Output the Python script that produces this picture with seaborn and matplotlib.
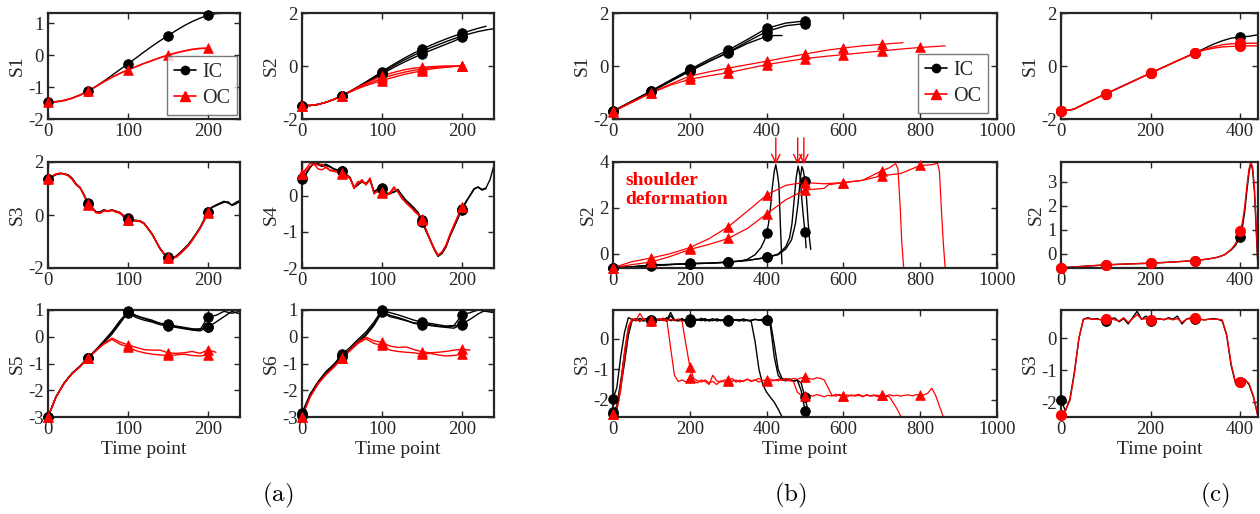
import matplotlib
matplotlib.use("Agg")
import matplotlib.pyplot as plt
import seaborn as sns
from matplotlib.lines import Line2D

# ---------------- data ----------------
T5 = list(range(0, 245, 5))
T10 = list(range(0, 250, 10))
TB = list(range(0, 880, 10))
TC = list(range(0, 450, 10))

# (a) S1
a_s1_ic = [-1.47, -1.46, -1.42, -1.35, -1.25, -1.13, -0.98, -0.81, -0.63, -0.45, -0.27, -0.09, 0.1,
           0.28, 0.45, 0.61, 0.77, 0.92, 1.05, 1.16, 1.25, 1.3, 1.31, 1.31, 1.3]
a_s1_oc = [-1.47, -1.46, -1.42, -1.35, -1.25, -1.13, -0.98, -0.83, -0.69, -0.57, -0.46, -0.36, -0.26,
           -0.17, -0.08, 0.0, 0.07, 0.13, 0.18, 0.21, 0.22]
# (a) S2
a_s2_ic1 = [-1.5, -1.49, -1.45, -1.37, -1.26, -1.12, -0.96, -0.78, -0.6, -0.41, -0.21, -0.02, 0.16,
            0.33, 0.49, 0.63, 0.77, 0.9, 1.02, 1.13, 1.24, 1.33, 1.42, 1.5]
a_s2_ic2 = [-1.5, -1.49, -1.45, -1.37, -1.26, -1.12, -0.96, -0.79, -0.61, -0.43, -0.25, -0.07, 0.1,
            0.26, 0.41, 0.55, 0.68, 0.8, 0.92, 1.03, 1.13, 1.22, 1.3, 1.36, 1.41]
a_s2_ic3 = [-1.5, -1.49, -1.45, -1.37, -1.26, -1.12, -0.97, -0.81, -0.64, -0.47, -0.3, -0.13, 0.03,
            0.18, 0.32, 0.45, 0.58, 0.7, 0.82, 0.94, 1.08]
a_s2_oc1 = [-1.5, -1.49, -1.45, -1.37, -1.26, -1.12, -0.96, -0.8, -0.65, -0.51, -0.38, -0.28, -0.2,
            -0.13, -0.08, -0.05, -0.03, -0.01, 0.0, 0.0, 0.0]
a_s2_oc2 = [-1.5, -1.49, -1.45, -1.37, -1.26, -1.12, -0.97, -0.83, -0.7, -0.58, -0.47, -0.37, -0.29,
            -0.22, -0.16, -0.11, -0.07, -0.04, -0.02, -0.01, 0.0]
a_s2_oc3 = [-1.5, -1.49, -1.45, -1.37, -1.26, -1.12, -0.98, -0.85, -0.74, -0.64, -0.55, -0.46, -0.38,
            -0.3, -0.24, -0.18, -0.12, -0.08, -0.05, -0.02, 0.0]
# (a) S3
a_s3_ic1 = [1.37, 1.45, 1.53, 1.56, 1.55, 1.5, 1.38, 1.15, 1.05, 0.75, 0.44, 0.3, 0.12, 0.1, 0.18, 0.15,
            0.2, 0.13, 0.1, -0.05, -0.15, -0.2, -0.2, -0.22, -0.3, -0.5, -0.7, -0.98, -1.25, -1.45,
            -1.6, -1.62, -1.57, -1.45, -1.3, -1.15, -0.95, -0.72, -0.5, -0.2, 0.1, 0.3, 0.38, 0.45,
            0.52, 0.45, 0.38, 0.48, 0.55]
a_s3_ic2 = [1.35, 1.44, 1.52, 1.57, 1.56, 1.52, 1.4, 1.18, 1.03, 0.78, 0.42, 0.28, 0.1, 0.12, 0.2, 0.14,
            0.18, 0.15, 0.08, -0.03, -0.12, -0.18, -0.22, -0.24, -0.32, -0.52, -0.72, -1.0, -1.27,
            -1.47, -1.62, -1.63, -1.55, -1.42, -1.27, -1.12, -0.92, -0.7, -0.47, -0.18, 0.12, 0.28,
            0.35, 0.42, 0.48, 0.5, 0.36, 0.42, 0.52]
a_s3_oc1 = [1.36, 1.46, 1.54, 1.57, 1.56, 1.5, 1.37, 1.16, 1.04, 0.76, 0.4, 0.28, 0.1, 0.08, 0.17, 0.16,
            0.19, 0.12, 0.09, -0.06, -0.17, -0.21, -0.21, -0.23, -0.31, -0.5, -0.71, -0.99, -1.26,
            -1.46, -1.6, -1.62, -1.58, -1.46, -1.31, -1.16, -0.96, -0.73, -0.5, -0.22, 0.08]
a_s3_oc2 = [1.38, 1.47, 1.55, 1.58, 1.55, 1.48, 1.35, 1.14, 1.02, 0.73, 0.38, 0.26, 0.08, 0.06, 0.15,
            0.13, 0.17, 0.1, 0.06, -0.08, -0.2, -0.23, -0.23, -0.25, -0.33, -0.53, -0.73, -1.0, -1.28,
            -1.48, -1.63, -1.64, -1.6, -1.48, -1.33, -1.18, -0.98, -0.75, -0.52, -0.24, 0.1]
# (a) S4
a_s4_ic1 = [0.5, 0.62, 0.8, 0.92, 0.9, 0.85, 0.88, 0.82, 0.75, 0.72, 0.68, 0.6, 0.52, 0.22, 0.3, 0.42,
            0.32, 0.48, 0.1, 0.18, 0.2, 0.05, 0.08, 0.1, 0.18, 0.0, -0.15, -0.25, -0.35, -0.45, -0.68,
            -0.95, -1.2, -1.45, -1.65, -1.58, -1.4, -1.1, -0.85, -0.6, -0.35, -0.15, 0.0, 0.18, 0.25,
            0.18, 0.22, 0.45, 0.85]
a_s4_ic2 = [0.48, 0.6, 0.78, 0.9, 0.86, 0.82, 0.84, 0.8, 0.74, 0.7, 0.7, 0.58, 0.5, 0.25, 0.33, 0.38,
            0.35, 0.45, 0.12, 0.2, 0.22, 0.08, 0.06, 0.12, 0.15, 0.02, -0.12, -0.22, -0.33, -0.48,
            -0.72, -0.98, -1.22, -1.48, -1.68, -1.6, -1.42, -1.12, -0.88, -0.62, -0.38, -0.18, 0.02,
            0.2, 0.24, 0.16, 0.2]
a_s4_oc1 = [0.6, 0.7, 0.82, 0.88, 0.75, 0.72, 0.8, 0.7, 0.68, 0.65, 0.62, 0.58, 0.5, 0.2, 0.35, 0.45,
            0.3, 0.5, 0.05, 0.15, 0.08, 0.02, 0.05, 0.2, 0.12, -0.05, -0.2, -0.3, -0.4, -0.5, -0.65,
            -0.95, -1.22, -1.48, -1.66, -1.55, -1.38, -1.08, -0.82, -0.55, -0.3]
a_s4_oc2 = [0.62, 0.75, 0.9, 0.92, 0.85, 0.88, 0.78, 0.72, 0.7, 0.68, 0.64, 0.55, 0.48, 0.24, 0.4, 0.38,
            0.34, 0.42, 0.08, 0.12, 0.12, 0.0, 0.1, 0.25, 0.1, -0.08, -0.18, -0.28, -0.42, -0.52,
            -0.66, -0.92, -1.2, -1.45, -1.64, -1.56, -1.36, -1.06, -0.8, -0.56, -0.32]
# (a) S5
a_s5_ic1 = [-3.0, -2.25, -1.75, -1.38, -1.12, -0.8, -0.52, -0.22, 0.1, 0.5, 0.92, 0.78, 0.7, 0.62, 0.5,
            0.44, 0.4, 0.35, 0.3, 0.25, 0.75, 0.8, 0.95, 0.88, 0.95]
a_s5_ic2 = [-3.0, -2.25, -1.74, -1.37, -1.1, -0.8, -0.5, -0.18, 0.15, 0.55, 0.9, 0.72, 0.62, 0.55, 0.45,
            0.4, 0.35, 0.3, 0.25, 0.22, 0.35, 0.55, 0.75, 0.95, 0.85]
a_s5_ic3 = [-3.0, -2.24, -1.73, -1.36, -1.1, -0.78, -0.48, -0.15, 0.2, 0.6, 0.95, 0.8, 0.68, 0.58, 0.5,
            0.48, 0.38, 0.32, 0.28, 0.3, 0.35]
a_s5_oc1 = [-3.0, -2.25, -1.75, -1.38, -1.12, -0.8, -0.52, -0.25, -0.05, -0.2, -0.3, -0.4, -0.48, -0.5,
            -0.5, -0.6, -0.62, -0.6, -0.55, -0.62, -0.5, -0.58]
a_s5_oc2 = [-3.0, -2.25, -1.75, -1.38, -1.12, -0.8, -0.52, -0.27, -0.1, -0.28, -0.38, -0.52, -0.6, -0.65,
            -0.68, -0.7, -0.68, -0.65, -0.7, -0.72, -0.68]
# (a) S6
a_s6_ic1 = [-2.85, -2.15, -1.68, -1.3, -1.02, -0.66, -0.4, -0.1, 0.18, 0.55, 1.0, 0.9, 0.82, 0.72, 0.62,
            0.55, 0.5, 0.45, 0.4, 0.42, 0.82, 0.9, 1.0, 0.95, 0.9]
a_s6_ic2 = [-2.9, -2.2, -1.72, -1.35, -1.08, -0.72, -0.48, -0.18, 0.1, 0.48, 0.95, 0.8, 0.72, 0.62, 0.5,
            0.45, 0.42, 0.38, 0.35, 0.32, 0.48, 0.65, 0.85, 1.0, 0.95]
a_s6_ic3 = [-2.95, -2.22, -1.75, -1.38, -1.1, -0.75, -0.5, -0.22, 0.05, 0.42, 0.92, 0.75, 0.68, 0.6,
            0.52, 0.5, 0.45, 0.4, 0.38, 0.4, 0.45]
a_s6_oc1 = [-3.0, -2.25, -1.75, -1.4, -1.12, -0.78, -0.5, -0.2, -0.02, -0.15, -0.21, -0.35, -0.4, -0.38,
            -0.48, -0.56, -0.6, -0.58, -0.55, -0.5, -0.47, -0.5]
a_s6_oc2 = [-3.0, -2.26, -1.77, -1.42, -1.14, -0.8, -0.52, -0.25, -0.08, -0.25, -0.32, -0.5, -0.55, -0.58,
            -0.6, -0.65, -0.62, -0.68, -0.72, -0.7, -0.65]

# (b) S1
b_s1_ic1_t = [0, 50, 100, 150, 200, 250, 300, 350, 400, 450, 500, 510]
b_s1_ic1 = [-1.7, -1.32, -0.93, -0.53, -0.13, 0.25, 0.6, 1.0, 1.42, 1.62, 1.7, 1.71]
b_s1_ic2_t = [0, 50, 100, 150, 200, 250, 300, 350, 400, 450, 500, 510]
b_s1_ic2 = [-1.72, -1.35, -0.97, -0.58, -0.2, 0.17, 0.52, 0.92, 1.3, 1.52, 1.6, 1.61]
b_s1_ic3_t = [0, 50, 100, 150, 200, 250, 300, 350, 400, 420, 440]
b_s1_ic3 = [-1.7, -1.33, -0.95, -0.56, -0.17, 0.18, 0.5, 0.85, 1.12, 1.15, 1.15]
b_s1_oc1_t = [0, 50, 100, 150, 200, 250, 300, 350, 400, 450, 500, 550, 600, 650, 700, 755]
b_s1_oc1 = [-1.7, -1.35, -1.0, -0.68, -0.38, -0.22, -0.08, 0.05, 0.18, 0.32, 0.45, 0.58, 0.68, 0.76,
            0.82, 0.88]
b_s1_oc2_t = [0, 50, 100, 150, 200, 250, 300, 350, 400, 450, 500, 550, 600, 650, 700, 750, 800, 865]
b_s1_oc2 = [-1.72, -1.37, -1.02, -0.72, -0.5, -0.37, -0.25, -0.1, 0.05, 0.17, 0.28, 0.36, 0.43, 0.5,
            0.57, 0.64, 0.7, 0.76]

# (b) S2
b_s2_ic1_t = [0, 50, 100, 150, 200, 250, 300, 330, 350, 370, 385, 395, 400, 405, 410, 415, 420, 424,
              428, 432, 436, 440]
b_s2_ic1 = [-0.62, -0.58, -0.53, -0.48, -0.44, -0.42, -0.38, -0.33, -0.25, -0.05, 0.25, 0.6, 0.9, 1.3,
            2.0, 2.9, 3.6, 3.88, 3.5, 3.0, 1.2, -0.45]
b_s2_ic2_t = [0, 50, 100, 150, 200, 250, 300, 350, 400, 430, 450, 460, 466, 472, 477, 482, 487, 492,
              497, 500, 503]
b_s2_ic2 = [-0.62, -0.57, -0.52, -0.48, -0.43, -0.42, -0.37, -0.3, -0.17, -0.02, 0.3, 0.7, 1.3, 2.4,
            3.3, 3.82, 3.4, 2.3, 1.4, 0.93, 0.25]
b_s2_ic3_t = [0, 50, 100, 150, 200, 250, 300, 350, 400, 430, 450, 465, 475, 482, 488, 492, 496, 500,
              504, 508, 512, 515]
b_s2_ic3 = [-0.62, -0.58, -0.5, -0.47, -0.45, -0.42, -0.37, -0.3, -0.17, -0.05, 0.2, 0.6, 1.3, 2.2,
            3.3, 3.8, 3.6, 3.15, 2.4, 1.4, 0.6, 0.18]
b_s2_oc1_t = [0, 50, 100, 150, 200, 250, 300, 350, 400, 450, 475, 500, 550, 600, 650, 700, 720, 736,
              742, 748, 752, 757]
b_s2_oc1 = [-0.62, -0.35, -0.19, 0.0, 0.26, 0.65, 1.17, 1.85, 2.56, 2.98, 3.05, 3.1, 3.05, 3.1, 3.2,
            3.62, 3.75, 3.93, 3.7, 2.0, 0.5, -0.62]
b_s2_oc2_t = [0, 50, 100, 150, 200, 250, 300, 350, 400, 450, 500, 530, 550, 560, 600, 650, 700, 750,
              800, 830, 845, 850, 855, 860, 865]
b_s2_oc2 = [-0.62, -0.48, -0.37, -0.12, 0.18, 0.4, 0.66, 1.1, 1.73, 2.35, 2.78, 2.82, 2.85, 3.0, 3.1,
            3.2, 3.4, 3.5, 3.85, 3.88, 3.95, 3.6, 2.0, 0.5, -0.62]
b_arrow_t = [424, 481, 497]

# (b) S3, sampled every 10 time points
b_s3_ic1 = [-1.97, -1.6, -0.6, 0.2, 0.68, 0.62, 0.58, 0.66, 0.6, 0.57, 0.62, 0.65, 0.59, 0.62, 0.56,
            0.75, 0.58, 0.63, 0.6, 0.55, 0.58, 0.64, 0.6, 0.66, 0.57, 0.62, 0.58, 0.64, 0.6, 0.57,
            0.6, 0.64, 0.59, 0.62, 0.57, 0.6, 0.55, -0.1, -1.0, -1.5, -1.75, -1.92, -2.08, -2.3, -2.55]
b_s3_ic2 = [-2.45, -2.3, -1.6, -0.8, 0.1, 0.6, 0.65, 0.58, 0.62, 0.66, 0.6, 0.57, 0.63, 0.6, 0.68,
            0.58, 0.62, 0.6, 0.65, 0.57, 0.55, 0.6, 0.63, 0.58, 0.62, 0.6, 0.65, 0.57, 0.6, 0.62,
            0.58, 0.63, 0.6, 0.57, 0.62, 0.6, 0.58, 0.62, 0.6, 0.63, 0.62, 0.4, -0.6, -1.2, -1.35,
            -1.38, -1.33, -1.4, -1.36, -1.7, -2.35, -2.55]
b_s3_ic3 = [-2.4, -2.2, -1.4, -0.5, 0.3, 0.6, 0.62, 0.6, 0.57, 0.63, 0.58, 0.62, 0.6, 0.66, 0.6,
            0.85, 0.6, 0.57, 0.62, 0.6, 0.64, 0.58, 0.6, 0.62, 0.65, 0.57, 0.6, 0.63, 0.58, 0.62,
            0.6, 0.57, 0.62, 0.6, 0.64, 0.58, 0.6, 0.63, 0.6, 0.58, 0.6, 0.55, -0.2, -1.0, -1.3,
            -1.35, -1.32, -1.38, -1.35, -1.45, -1.92, -2.5]
b_s3_oc1 = [-2.45, -2.3, -1.5, -0.4, 0.4, 0.65, 0.6, 0.82, 0.62, 0.58, 0.62, 0.6, 0.65, 0.58, 0.62,
            -0.3, -1.2, -1.4, -1.35, -1.42, -1.29, -1.38, -1.45, -1.35, -1.4, -1.5, -1.2, -1.38,
            -1.42, -1.35, -1.38, -1.3, -1.42, -1.36, -1.4, -1.32, -1.38, -1.35, -1.42, -1.36,
            -1.38, -1.33, -1.38, -1.32, -1.36, -1.3, -1.35, -1.3, -1.33, -1.28, -1.27, -1.3, -1.33,
            -1.28, -1.3, -1.35, -1.6, -1.85, -1.88, -1.82, -1.87, -1.9, -1.84, -1.88, -1.85, -1.9,
            -1.83, -1.88, -1.86, -1.9, -1.85, -1.88, -1.83, -1.87, -1.85, -1.88, -1.85, -1.84,
            -1.87, -1.83, -1.85, -1.84, -1.78, -1.62, -1.85, -2.2, -2.55]
b_s3_oc2 = [-2.45, -2.35, -1.7, -0.6, 0.3, 0.6, 0.62, 0.55, 0.65, 0.6, 0.57, 0.63, 0.6, 0.66, 0.58,
            0.62, 0.6, 0.63, 0.55, -0.2, -0.92, -1.3, -1.38, -1.42, -1.35, -1.45, -1.4, -1.5, -1.38,
            -1.42, -1.36, -1.4, -1.35, -1.42, -1.38, -1.33, -1.4, -1.36, -1.3, -1.38, -1.35, -1.4,
            -1.35, -1.38, -1.33, -1.36, -1.38, -1.4, -1.75, -1.85, -1.86, -1.84, -1.88, -1.83,
            -1.86, -1.9, -1.85, -1.88, -1.82, -1.86, -1.88, -1.84, -1.87, -1.85, -1.82, -1.88,
            -1.85, -1.87, -1.84, -1.86, -1.85, -1.88, -1.9, -2.1, -2.3, -2.55]

# (c) S1
c_s1_t = [0, 20, 30, 50, 100, 150, 200, 250, 300, 320, 340, 360, 380, 400, 420, 440]
c_s1_ic = [-1.7, -1.66, -1.62, -1.45, -1.05, -0.66, -0.27, 0.12, 0.5, 0.66, 0.82, 0.95, 1.05, 1.1,
           1.12, 1.18]
c_s1_oc1 = [-1.7, -1.66, -1.62, -1.45, -1.05, -0.66, -0.27, 0.12, 0.5, 0.62, 0.72, 0.8, 0.84, 0.85,
            0.86, 0.86]
c_s1_oc2 = [-1.7, -1.66, -1.62, -1.45, -1.05, -0.66, -0.27, 0.12, 0.5, 0.6, 0.67, 0.72, 0.74, 0.75,
            0.76, 0.76]
# (c) S2
c_s2_t = [0, 50, 100, 150, 200, 250, 300, 330, 350, 365, 380, 390, 400, 405, 410, 415, 420, 424, 428,
          432, 436, 440]
c_s2_ic = [-0.59, -0.53, -0.47, -0.43, -0.4, -0.35, -0.29, -0.22, -0.15, -0.05, 0.15, 0.35, 0.7, 1.1,
           1.7, 2.6, 3.4, 3.8, 3.5, 2.6, 1.0, -0.59]
c_s2_oc = [-0.59, -0.53, -0.47, -0.43, -0.4, -0.35, -0.29, -0.22, -0.15, -0.05, 0.18, 0.42, 0.93, 1.3,
           1.9, 2.8, 3.55, 3.82, 3.6, 2.8, 1.2, -0.59]
# (c) S3, every 10 time points
c_s3_ic = [-1.93, -2.28, -1.9, -1.05, 0.0, 0.6, 0.65, 0.6, 0.62, 0.58, 0.55, 0.62, 0.64, 0.52, 0.62,
           0.45, 0.65, 0.85, 0.6, 0.7, 0.55, 0.6, 0.62, 0.58, 0.65, 0.6, 0.7, 0.45, 0.6, 0.65, 0.62,
           0.6, 0.58, 0.6, 0.62, 0.6, 0.55, 0.1, -0.85, -1.42, -1.38, -1.28, -1.45, -1.85, -2.45]
c_s3_oc = [-2.4, -2.25, -1.95, -1.1, 0.0, 0.6, 0.62, 0.6, 0.6, 0.58, 0.6, 0.62, 0.58, 0.55, 0.65,
           0.5, 0.62, 0.75, 0.6, 0.62, 0.58, 0.62, 0.6, 0.6, 0.62, 0.58, 0.62, 0.5, 0.6, 0.62, 0.63,
           0.6, 0.58, 0.6, 0.6, 0.6, 0.58, 0.12, -0.8, -1.4, -1.38, -1.3, -1.42, -1.82, -2.45]

# ---------------- style ----------------
sns.set_style("ticks")
plt.rcParams["font.family"] = ["Liberation Serif", "DejaVu Serif"]
plt.rcParams["mathtext.fontset"] = "cm"
plt.rcParams["axes.unicode_minus"] = False
INK = "#262626"
FS = 13.5

fig = plt.figure(figsize=(12.6, 5.14), dpi=100)


def rect(x0, x1, y0, y1):
    return [x0 / 1260, 1 - y1 / 514, (x1 - x0) / 1260, (y1 - y0) / 514]


COLS = {"a1": (48, 240), "a2": (302, 494), "b": (613, 997), "c": (1061, 1258)}
ROWS = [(13, 119), (162, 268), (310, 417)]


def make_ax(col, row):
    return fig.add_axes(rect(*COLS[col], *ROWS[row]))


def style(ax, xlim, xticks, ylim, yticks, ylabel, xlabel=None):
    ax.set_xlim(*xlim)
    ax.set_ylim(*ylim)
    ax.set_xticks(xticks)
    ax.set_yticks(yticks)
    ax.tick_params(direction="in", top=True, right=True, length=4, width=1,
                   labelsize=FS, colors=INK, pad=3)
    for sp in ax.spines.values():
        sp.set_linewidth(1.6)
        sp.set_color(INK)
    ax.set_ylabel(ylabel, fontsize=FS + 0.5, color=INK, labelpad=2)
    ax.set_xlabel(xlabel if xlabel else "", fontsize=FS + 0.5, color=INK, labelpad=2)


def trace(ax, t, y, color, marker, step, upto=None, lw=1.0, s=48):
    sns.lineplot(x=t, y=y, color=color, linewidth=lw, ax=ax, sort=False,
                 estimator=None, legend=False)
    mt = [a for a in t if a % step == 0 and (upto is None or a <= upto)]
    my = [b for a, b in zip(t, y) if a in mt]
    sns.scatterplot(x=mt, y=my, color=color, marker=marker, s=s, edgecolor=color,
                    linewidth=0.6, ax=ax, clip_on=False, zorder=3, legend=False)


K, R = "black", "red"


def legend(ax, x, y):
    h = [Line2D([], [], color=K, marker="o", markersize=6, lw=1.2, label="IC"),
         Line2D([], [], color=R, marker="^", markersize=7, lw=1.2, label="OC")]
    lg = ax.legend(handles=h, loc="lower right", bbox_to_anchor=(x, y), borderaxespad=0,
                   fontsize=FS + 1, frameon=True, fancybox=False, handlelength=1.1,
                   handletextpad=0.3, labelspacing=0.35, borderpad=0.35)
    lg.get_frame().set_edgecolor("0.35")
    lg.get_frame().set_linewidth(1.0)


XA, XB, XC = (0, 240), (0, 1000), (0, 440)
TKA, TKB, TKC = [0, 100, 200], [0, 200, 400, 600, 800, 1000], [0, 200, 400]

# ---------------- panel (a) ----------------
ax = make_ax("a1", 0)
trace(ax, T10[:len(a_s1_ic)], a_s1_ic, K, "o", 50)
trace(ax, T10[:len(a_s1_oc)], a_s1_oc, R, "^", 50, lw=1.3)
style(ax, XA, TKA, (-2, 1.32), [-2, -1, 0, 1], "S1")
legend(ax, 0.985, 0.035)

ax = make_ax("a2", 0)
for yv in (a_s2_ic1, a_s2_ic2, a_s2_ic3):
    trace(ax, T10[:len(yv)], yv, K, "o", 50)
for yv in (a_s2_oc1, a_s2_oc2, a_s2_oc3):
    trace(ax, T10[:len(yv)], yv, R, "^", 50)
style(ax, XA, TKA, (-2, 2), [-2, 0, 2], "S2")

ax = make_ax("a1", 1)
for yv in (a_s3_ic1, a_s3_ic2):
    trace(ax, T5[:len(yv)], yv, K, "o", 50)
for yv in (a_s3_oc1, a_s3_oc2):
    trace(ax, T5[:len(yv)], yv, R, "^", 50)
style(ax, XA, TKA, (-2, 2), [-2, 0, 2], "S3")

ax = make_ax("a2", 1)
for yv in (a_s4_ic1, a_s4_ic2):
    trace(ax, T5[:len(yv)], yv, K, "o", 50)
for yv in (a_s4_oc1, a_s4_oc2):
    trace(ax, T5[:len(yv)], yv, R, "^", 50)
style(ax, XA, TKA, (-2, 0.94), [-2, -1, 0], "S4")

ax = make_ax("a1", 2)
for yv in (a_s5_ic1, a_s5_ic2, a_s5_ic3):
    trace(ax, T10[:len(yv)], yv, K, "o", 50)
for yv in (a_s5_oc1, a_s5_oc2):
    trace(ax, T10[:len(yv)], yv, R, "^", 50)
style(ax, XA, TKA, (-3, 1), [-3, -2, -1, 0, 1], "S5", "Time point")

ax = make_ax("a2", 2)
for yv in (a_s6_ic1, a_s6_ic2, a_s6_ic3):
    trace(ax, T10[:len(yv)], yv, K, "o", 50)
for yv in (a_s6_oc1, a_s6_oc2):
    trace(ax, T10[:len(yv)], yv, R, "^", 50)
style(ax, XA, TKA, (-3, 1), [-3, -2, -1, 0, 1], "S6", "Time point")

# ---------------- panel (b) ----------------
ax = make_ax("b", 0)
trace(ax, b_s1_ic1_t, b_s1_ic1, K, "o", 100)
trace(ax, b_s1_ic2_t, b_s1_ic2, K, "o", 100)
trace(ax, b_s1_ic3_t, b_s1_ic3, K, "o", 100)
trace(ax, b_s1_oc1_t, b_s1_oc1, R, "^", 100, lw=0.9)
trace(ax, b_s1_oc2_t, b_s1_oc2, R, "^", 100, lw=0.9)
style(ax, XB, TKB, (-2, 2), [-2, 0, 2], "S1")
legend(ax, 0.977, 0.057)

ax = make_ax("b", 1)
trace(ax, b_s2_ic1_t, b_s2_ic1, K, "o", 100)
trace(ax, b_s2_ic2_t, b_s2_ic2, K, "o", 100)
trace(ax, b_s2_ic3_t, b_s2_ic3, K, "o", 100)
trace(ax, b_s2_oc1_t, b_s2_oc1, R, "^", 100, lw=0.9)
trace(ax, b_s2_oc2_t, b_s2_oc2, R, "^", 100, lw=0.9)
style(ax, XB, TKB, (-0.63, 4), [0, 2, 4], "S2")
for xa in b_arrow_t:
    ax.annotate("", xy=(xa, 3.9), xytext=(xa, 5.05),
                arrowprops=dict(arrowstyle="->,head_length=0.6,head_width=0.3", color=R,
                                lw=1.0, shrinkA=0, shrinkB=0),
                annotation_clip=False)
ax.text(0.031, 0.91, "shoulder\ndeformation", transform=ax.transAxes, color=R,
        fontsize=14, fontweight="bold", va="top", ha="left", linespacing=1.2)

ax = make_ax("b", 2)
trace(ax, TB[:len(b_s3_ic1)], b_s3_ic1, K, "o", 100, upto=300)
trace(ax, TB[:len(b_s3_ic2)], b_s3_ic2, K, "o", 100)
trace(ax, TB[:len(b_s3_ic3)], b_s3_ic3, K, "o", 100)
trace(ax, TB[:len(b_s3_oc1)], b_s3_oc1, R, "^", 100, lw=0.9)
trace(ax, TB[:len(b_s3_oc2)], b_s3_oc2, R, "^", 100, lw=0.9)
style(ax, XB, TKB, (-2.56, 0.93), [-2, -1, 0], "S3", "Time point")

# ---------------- panel (c) ----------------
ax = make_ax("c", 0)
trace(ax, c_s1_t, c_s1_ic, K, "o", 100, s=50)
trace(ax, c_s1_t, c_s1_oc1, R, "o", 100, s=55)
trace(ax, c_s1_t, c_s1_oc2, R, "o", 100, s=55)
style(ax, XC, TKC, (-2, 2), [-2, 0, 2], "S1")

ax = make_ax("c", 1)
trace(ax, c_s2_t, c_s2_ic, K, "o", 100, s=50)
trace(ax, c_s2_t, c_s2_oc, R, "o", 100, s=55)
style(ax, XC, TKC, (-0.6, 3.83), [0, 1, 2, 3], "S2")

ax = make_ax("c", 2)
trace(ax, TC[:len(c_s3_ic)], c_s3_ic, K, "o", 100, s=50)
trace(ax, TC[:len(c_s3_oc)], c_s3_oc, R, "o", 100, s=55)
style(ax, XC, TKC, (-2.47, 0.89), [-2, -1, 0], "S3", "Time point")

# panel captions
for lab, xp in (("(a)", 278), ("(b)", 790), ("(c)", 1215)):
    fig.text(xp / 1260, 1 - 495 / 514, r"$\mathrm{%s}$" % lab, fontsize=18,
             ha="center", va="center", color="black")

fig.savefig("out.png", dpi=100)
